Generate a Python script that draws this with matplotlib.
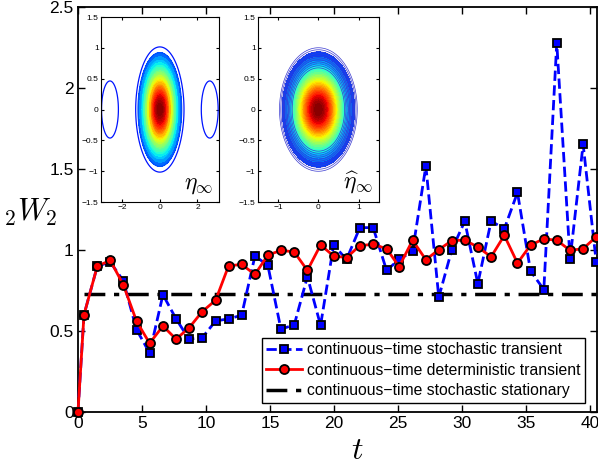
import numpy as np
import matplotlib.pyplot as plt
from matplotlib.colors import PowerNorm

plt.rcParams['font.family'] = ['Liberation Sans', 'DejaVu Sans']
plt.rcParams['mathtext.fontset'] = 'cm'

# Time samples
t = [0.0, 0.47, 1.51, 2.52, 3.54, 4.58, 5.60, 6.64, 7.66, 8.67, 9.71,
     10.76, 11.77, 12.79, 13.83, 14.84, 15.86, 16.90, 17.93, 18.96, 19.98,
     20.99, 22.03, 23.07, 24.12, 25.10, 26.15, 27.19, 28.20, 29.22, 30.23,
     31.25, 32.29, 33.32, 34.35, 35.37, 36.41, 37.42, 38.46, 39.48, 40.51]

# continuous-time stochastic transient
w_stoch = [0.0, 0.60, 0.90, 0.926, 0.81, 0.508, 0.364, 0.724, 0.576, 0.45, 0.459,
           0.562, 0.575, 0.597, 0.963, 0.905, 0.512, 0.537, 0.835, 0.535, 1.03,
           0.942, 1.138, 1.138, 0.874, 0.942, 0.992, 1.518, 0.708, 1.002, 1.177,
           0.792, 1.179, 1.13, 1.355, 0.870, 0.756, 2.278, 0.942, 1.652, 0.923]

# continuous-time deterministic transient
w_det = [0.0, 0.60, 0.90, 0.936, 0.786, 0.56, 0.424, 0.531, 0.45, 0.518, 0.62,
         0.69, 0.902, 0.911, 0.849, 0.968, 0.998, 0.988, 0.874, 1.031, 0.963,
         0.953, 1.027, 1.035, 1.008, 0.897, 1.06, 0.94, 1.002, 1.058, 1.061,
         1.018, 0.958, 1.09, 0.919, 1.03, 1.069, 1.06, 0.998, 1.008, 1.082]

# stationary level
w_stat = 0.728

fig = plt.figure(figsize=(5.98, 4.66), dpi=100)
ax = fig.add_axes([0.1304, 0.1159, 0.8676, 0.8691])

ax.plot(t, w_stoch, '--', color='blue', lw=2, marker='s', ms=5.5,
        mfc='blue', mec='black', mew=1.3,
        label='continuous\u2212time stochastic transient', clip_on=False, zorder=3)
ax.plot(t, w_det, '-', color='red', lw=2, marker='o', ms=6.5,
        mfc='red', mec='black', mew=1.3,
        label='continuous\u2212time deterministic transient', clip_on=False, zorder=4)
ax.plot([t[1], t[-1]], [w_stat, w_stat], color='black', lw=2.5,
        dashes=(6, 2.5, 1.5, 2.5),
        label='continuous\u2212time stochastic stationary', zorder=2)

ax.set_xlim(0, 40.55)
ax.set_ylim(0, 2.5)
ax.set_xticks(range(0, 41, 5))
ax.set_yticks([0, 0.5, 1, 1.5, 2, 2.5])
ax.set_yticklabels(['0', '0.5', '1', '1.5', '2', '2.5'])
ax.tick_params(direction='in', top=True, right=True, labelsize=12.5,
               length=5, width=1, pad=3)
for s in ax.spines.values():
    s.set_linewidth(1.3)

ax.set_xlabel('$t$', fontsize=23)
ax.xaxis.set_label_coords(0.538, -0.06)
ax.set_ylabel('${}_2W_2$', fontsize=22, rotation=0)
ax.yaxis.set_label_coords(-0.092, 0.455)

leg = ax.legend(loc='lower right', bbox_to_anchor=(0.978, 0.022), fontsize=11.3,
                frameon=True, fancybox=False, framealpha=1, edgecolor='black',
                handlelength=2.3, handletextpad=0.3, labelspacing=0.35,
                borderpad=0.3, borderaxespad=0)
leg.get_frame().set_linewidth(1)

norm = PowerNorm(gamma=0.6, vmin=0, vmax=1)

# inset 1: eta_infinity
ax1 = fig.add_axes([0.1684, 0.5665, 0.1978, 0.397])
x1 = np.linspace(-np.pi, np.pi, 300)
y1 = np.linspace(-1.5, 1.5, 300)
X1, Y1 = np.meshgrid(x1, y1)
f1 = np.exp(-0.5 * ((X1 / 0.5) ** 2 + (Y1 / 0.4) ** 2))
side = 0.055 * (np.exp(-0.5 * (((X1 - 2.65) / 0.56) ** 2 + (Y1 / 0.58) ** 2))
                + np.exp(-0.5 * (((X1 + 2.65) / 0.56) ** 2 + (Y1 / 0.58) ** 2)))
f1 = f1 + side
ax1.contourf(X1, Y1, f1, levels=np.linspace(0.07, 1.0, 30), cmap='jet', norm=norm)
lv1 = [0.04, 0.07, 0.12, 0.18, 0.26, 0.35, 0.45, 0.57]
ax1.contour(X1, Y1, f1, levels=lv1, colors=[plt.cm.jet(norm(v)) for v in lv1],
            linewidths=0.9)
ax1.set_xlim(-np.pi, np.pi)
ax1.set_ylim(-1.5, 1.5)
ax1.set_xticks([-2, 0, 2])
ax1.set_yticks([-1.5, -1, -0.5, 0, 0.5, 1, 1.5])
ax1.set_yticklabels(['\u22121.5', '\u22121', '\u22120.5', '0', '0.5', '1', '1.5'])
ax1.tick_params(direction='in', top=True, right=True, labelsize=6, length=2, pad=1.5)
ax1.text(0.95, 0.03, r'$\eta_\infty$', transform=ax1.transAxes, fontsize=17,
         ha='right', va='bottom')

# inset 2: eta_infinity hat
ax2 = fig.add_axes([0.431, 0.5665, 0.2028, 0.397])
x2 = np.linspace(-1.5, 1.5, 300)
y2 = np.linspace(-1.5, 1.5, 300)
X2, Y2 = np.meshgrid(x2, y2)
f2 = np.exp(-0.5 * ((X2 / 0.36) ** 2 + (Y2 / 0.375) ** 2))
ax2.contourf(X2, Y2, f2, levels=np.linspace(0.045, 1.0, 30), cmap='jet', norm=norm)
r = np.linspace(1.8, 2.67, 11)
ax2.contour(X2, Y2, f2, levels=np.sort(np.exp(-0.5 * r ** 2)), colors='#3a3ad0',
            linewidths=0.5)
ax2.set_xlim(-1.5, 1.5)
ax2.set_ylim(-1.5, 1.5)
ax2.set_xticks([-1, 0, 1])
ax2.set_yticks([-1.5, -1, -0.5, 0, 0.5, 1, 1.5])
ax2.set_yticklabels(['\u22121.5', '\u22121', '\u22120.5', '0', '0.5', '1', '1.5'])
ax2.tick_params(direction='in', top=True, right=True, labelsize=6, length=2, pad=1.5)
ax2.text(0.95, 0.03, r'$\widehat{\eta}_\infty$', transform=ax2.transAxes,
         fontsize=17, ha='right', va='bottom')

fig.savefig('out.png', dpi=100)
